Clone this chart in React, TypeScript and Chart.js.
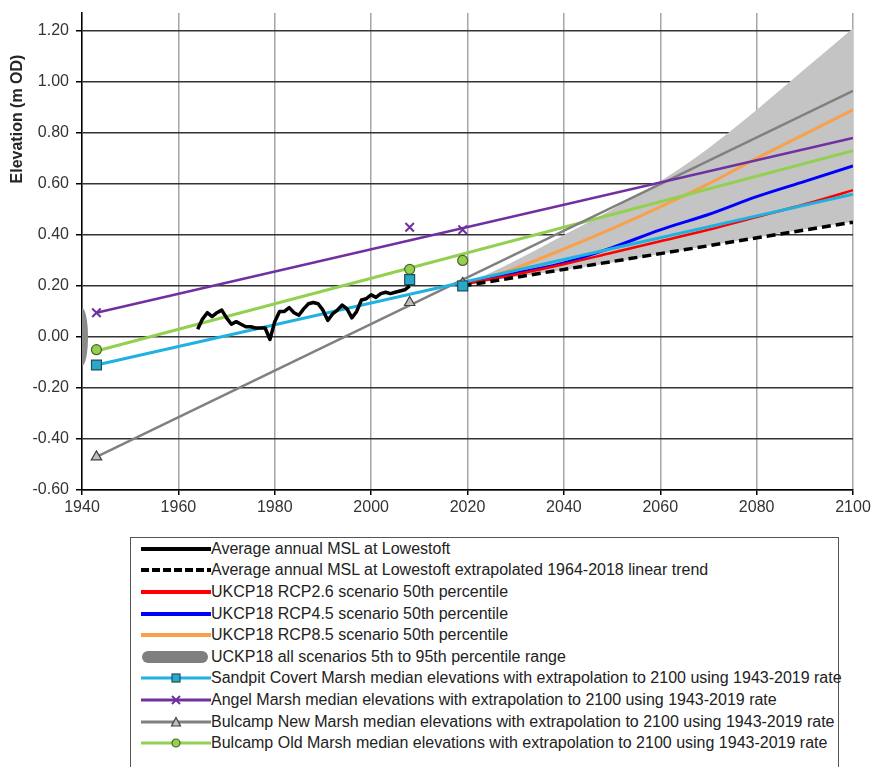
import React, { useEffect, useRef } from 'react';
import { Chart, registerables } from 'chart.js';

Chart.register(...registerables);

// ---------- data ----------
const xTickValues = [1940, 1960, 1980, 2000, 2020, 2040, 2060, 2080, 2100];
const yTickValues = [-0.6, -0.4, -0.2, 0, 0.2, 0.4, 0.6, 0.8, 1.0, 1.2];
const yAxisTitle = 'Elevation (m OD)';

// Average annual MSL at Lowestoft
const mslYears = [
  1964, 1965, 1966, 1967, 1968, 1969, 1970, 1971, 1972, 1973, 1974, 1975, 1976, 1977, 1978,
  1979, 1980, 1981, 1982, 1983, 1984, 1985, 1986, 1987, 1988, 1989, 1990, 1991, 1992, 1993,
  1994, 1995, 1996, 1997, 1998, 1999, 2000, 2001, 2002, 2003, 2004, 2005, 2006, 2007, 2008,
];
const mslValues = [
  0.03, 0.07, 0.095, 0.08, 0.095, 0.105, 0.075, 0.05, 0.06, 0.05, 0.04, 0.04, 0.035, 0.035, 0.035,
  -0.01, 0.06, 0.1, 0.1, 0.115, 0.095, 0.085, 0.11, 0.13, 0.135, 0.13, 0.105, 0.065, 0.09, 0.105,
  0.125, 0.11, 0.075, 0.1, 0.145, 0.15, 0.165, 0.155, 0.17, 0.175, 0.17, 0.175, 0.18, 0.185, 0.2,
];

// MSL extrapolated linear trend
const mslTrendYears = [2019, 2100];
const mslTrendValues = [0.2, 0.45];

// UKCP18 projections
const projYears = [2020, 2030, 2040, 2050, 2060, 2070, 2080, 2090, 2100];
const rcp26 = [0.21, 0.245, 0.285, 0.33, 0.375, 0.42, 0.47, 0.52, 0.575];
const rcp45 = [0.21, 0.25, 0.29, 0.35, 0.42, 0.48, 0.55, 0.61, 0.67];
const rcp85 = [0.21, 0.27, 0.345, 0.425, 0.51, 0.6, 0.7, 0.795, 0.89];
const rangeLow = [0.205, 0.235, 0.262, 0.292, 0.325, 0.358, 0.39, 0.422, 0.452];
const rangeHigh = [0.21, 0.3, 0.4, 0.5, 0.61, 0.74, 0.89, 1.05, 1.21];
const rangeMarkerYear = [1940];
const rangeMarkerValue = [0];

// Marsh median elevations
const marshYears = [1943, 2008, 2019];
const sandpitValues = [-0.11, 0.225, 0.2];
const angelValues = [0.095, 0.43, 0.42];
const bulcampNewValues = [-0.47, 0.135, 0.21];
const bulcampOldValues = [-0.05, 0.265, 0.3];

// Extrapolation using 1943-2019 rate
const trendYears = [1943, 2100];
const sandpitTrend = [-0.11, 0.56];
const angelTrend = [0.095, 0.78];
const bulcampNewTrend = [-0.47, 0.965];
const bulcampOldTrend = [-0.055, 0.73];

const legendLabels = [
  'Average annual MSL at Lowestoft',
  'Average annual MSL at Lowestoft extrapolated 1964-2018 linear trend',
  'UKCP18 RCP2.6 scenario 50th percentile',
  'UKCP18 RCP4.5 scenario 50th percentile',
  'UKCP18 RCP8.5 scenario 50th percentile',
  'UCKP18 all scenarios 5th to 95th percentile range',
  'Sandpit Covert Marsh median elevations with extrapolation to 2100 using 1943-2019 rate',
  'Angel Marsh median elevations with extrapolation to 2100 using 1943-2019 rate',
  'Bulcamp New Marsh median elevations with extrapolation to 2100 using 1943-2019 rate',
  'Bulcamp Old Marsh median elevations with extrapolation to 2100 using 1943-2019 rate',
];

// ---------- styles ----------
const C = {
  black: '#000000',
  red: '#ff0000',
  blue: '#0000ff',
  orange: '#f9a04a',
  band: '#c4c4c4',
  bandLegend: '#7f7f7f',
  cyan: '#1fb2e0',
  purple: '#7030a0',
  gray: '#808080',
  green: '#92d050',
};
const FONT = '"Liberation Sans", Arial, Helvetica, sans-serif';

const pts = (xs: number[], ys: number[]) => xs.map((x, i) => ({ x, y: ys[i] }));

const yTitlePlugin = {
  id: 'yTitle',
  afterDraw(chart: any) {
    const ctx = chart.ctx as CanvasRenderingContext2D;
    ctx.save();
    ctx.translate(18, 119);
    ctx.rotate(-Math.PI / 2);
    ctx.font = `bold 16px ${FONT}`;
    ctx.fillStyle = '#262626';
    ctx.textAlign = 'center';
    ctx.textBaseline = 'middle';
    ctx.fillText(yAxisTitle, 0, 0);
    ctx.restore();
  },
};

function Sample({ kind }: { kind: number }) {
  const w = 70;
  const h = 14;
  const cy = 7;
  const line = (color: string, width: number, dash?: string) => (
    <line x1={0} y1={cy} x2={w} y2={cy} stroke={color} strokeWidth={width} strokeDasharray={dash} />
  );
  let content: any = null;
  switch (kind) {
    case 0: content = line(C.black, 4); break;
    case 1: content = line(C.black, 4, '8 3'); break;
    case 2: content = line(C.red, 4); break;
    case 3: content = line(C.blue, 4); break;
    case 4: content = line(C.orange, 4); break;
    case 5: content = <rect x={1} y={1} width={66} height={12} rx={6} fill={C.bandLegend} />; break;
    case 6: content = (<>{line(C.cyan, 3)}<rect x={31} y={3} width={8} height={8} fill="#2aa8c8" stroke="#1d4f60" strokeWidth={1.2} /></>); break;
    case 7: content = (<>{line(C.purple, 3)}<path d="M31 3 L39 11 M39 3 L31 11" stroke={C.purple} strokeWidth={2} /></>); break;
    case 8: content = (<>{line(C.gray, 3)}<polygon points="35,2.5 39.5,11 30.5,11" fill="#bfbfbf" stroke="#404040" strokeWidth={1.2} /></>); break;
    case 9: content = (<>{line(C.green, 3)}<circle cx={35} cy={7} r={4} fill={C.green} stroke="#4f6228" strokeWidth={1.2} /></>); break;
  }
  return (
    <svg width={w} height={h} style={{ display: 'block', flex: '0 0 auto' }}>
      {content}
    </svg>
  );
}

export default function App() {
  const ref = useRef<HTMLCanvasElement>(null);

  useEffect(() => {
    const canvas = ref.current;
    if (!canvas) return;

    const ell = document.createElement('canvas');
    ell.width = 14;
    ell.height = 60;
    const ectx = ell.getContext('2d');
    if (ectx) {
      ectx.fillStyle = '#8a8a8a';
      ectx.beginPath();
      ectx.ellipse(7, 30, 6, 29, 0, 0, Math.PI * 2);
      ectx.fill();
    }

    const lineBase = { pointRadius: 0, fill: false, borderJoinStyle: 'round' as const };

    const chart = new Chart(canvas, {
      type: 'line',
      data: {
        datasets: [
          { label: legendLabels[0], data: pts(mslYears, mslValues), borderColor: C.black, borderWidth: 3.5, order: 0, ...lineBase },
          { label: 'Sandpit points', data: pts(marshYears, sandpitValues), showLine: false, pointStyle: 'rect', pointRadius: 7, pointBackgroundColor: '#2aa8c8', pointBorderColor: '#1d4f60', pointBorderWidth: 1.2, order: 1 },
          { label: 'Angel points', data: pts(marshYears, angelValues), showLine: false, pointStyle: 'crossRot', pointRadius: 6, pointBorderColor: C.purple, pointBorderWidth: 2, order: 1 },
          { label: 'Bulcamp New points', data: pts(marshYears, bulcampNewValues), showLine: false, pointStyle: 'triangle', pointRadius: 6, pointBackgroundColor: '#bfbfbf', pointBorderColor: '#404040', pointBorderWidth: 1.2, order: 1 },
          { label: 'Bulcamp Old points', data: pts(marshYears, bulcampOldValues), showLine: false, pointStyle: 'circle', pointRadius: 5, pointBackgroundColor: C.green, pointBorderColor: '#4f6228', pointBorderWidth: 1.2, order: 1 },
          { label: legendLabels[1], data: pts(mslTrendYears, mslTrendValues), borderColor: C.black, borderWidth: 3.5, borderDash: [9, 5], order: 2, ...lineBase },
          { label: legendLabels[6], data: pts(trendYears, sandpitTrend), borderColor: C.cyan, borderWidth: 3, order: 3, ...lineBase },
          { label: legendLabels[7], data: pts(trendYears, angelTrend), borderColor: C.purple, borderWidth: 2.5, order: 3, ...lineBase },
          { label: legendLabels[8], data: pts(trendYears, bulcampNewTrend), borderColor: C.gray, borderWidth: 2.5, order: 3, ...lineBase },
          { label: legendLabels[9], data: pts(trendYears, bulcampOldTrend), borderColor: C.green, borderWidth: 3, order: 3, ...lineBase },
          { label: legendLabels[2], data: pts(projYears, rcp26), borderColor: C.red, borderWidth: 2.5, cubicInterpolationMode: 'monotone', order: 4, ...lineBase },
          { label: legendLabels[3], data: pts(projYears, rcp45), borderColor: C.blue, borderWidth: 3, cubicInterpolationMode: 'monotone', order: 4, ...lineBase },
          { label: legendLabels[4], data: pts(projYears, rcp85), borderColor: C.orange, borderWidth: 3, cubicInterpolationMode: 'monotone', order: 4, ...lineBase },
          { label: 'range low', data: pts(projYears, rangeLow), borderWidth: 0, borderColor: 'rgba(0,0,0,0)', cubicInterpolationMode: 'monotone', order: 5, pointRadius: 0, fill: false },
          { label: legendLabels[5], data: pts(projYears, rangeHigh), borderWidth: 0, borderColor: 'rgba(0,0,0,0)', backgroundColor: C.band, cubicInterpolationMode: 'monotone', order: 5, pointRadius: 0, fill: '-1' },
          { label: 'range marker', data: pts(rangeMarkerYear, rangeMarkerValue), showLine: false, pointStyle: ell as any, pointRadius: 6, order: 6 },
        ] as any,
      },
      options: {
        animation: false,
        responsive: true,
        maintainAspectRatio: false,
        layout: { padding: { left: 0, right: 21, top: 13, bottom: 0 } },
        plugins: { legend: { display: false }, tooltip: { enabled: false } },
        scales: {
          x: {
            type: 'linear',
            min: 1940,
            max: 2100,
            afterBuildTicks: (s: any) => { s.ticks = xTickValues.map((v) => ({ value: v })); },
            afterFit: (s: any) => { s.height = 38; s.paddingLeft = 0; s.paddingRight = 0; },
            grid: { color: '#a6a6a6', lineWidth: 1.5, tickLength: 5, tickColor: '#000', tickWidth: 1.5 },
            border: { color: '#000', width: 1.5 },
            ticks: {
              autoSkip: false,
              maxRotation: 0,
              padding: 3,
              color: '#333',
              font: { family: FONT, size: 16 },
              callback: (v: any) => String(v),
            },
          },
          y: {
            type: 'linear',
            min: -0.6,
            max: 1.27,
            afterBuildTicks: (s: any) => { s.ticks = yTickValues.map((v) => ({ value: v })); },
            afterFit: (s: any) => { s.width = 82; s.paddingTop = 0; s.paddingBottom = 0; },
            grid: { color: '#333', lineWidth: 1.5, tickLength: 6, tickColor: '#000', tickWidth: 1.5 },
            border: { color: '#000', width: 1.5 },
            ticks: {
              padding: 7,
              color: '#333',
              font: { family: FONT, size: 16 },
              callback: (v: any) => Number(v).toFixed(2),
            },
          },
        },
      },
      plugins: [yTitlePlugin],
    } as any);

    return () => chart.destroy();
  }, []);

  return (
    <div style={{ position: 'fixed', left: 0, top: 0, width: 874, height: 767, overflow: 'hidden', background: '#fff' }}>
      <div style={{ position: 'absolute', left: 0, top: 0, width: 874, height: 528 }}>
        <canvas ref={ref} />
      </div>
      <div
        style={{
          position: 'absolute',
          left: 130,
          top: 537,
          width: 709,
          height: 260,
          border: '1px solid #555',
          boxSizing: 'border-box',
          background: '#fff',
          fontFamily: FONT,
          fontSize: 16,
          color: '#222',
        }}
      >
        {legendLabels.map((label, i) => (
          <div key={i} style={{ display: 'flex', alignItems: 'center', height: 21.6, whiteSpace: 'nowrap' }}>
            <div style={{ width: 10, flex: '0 0 auto' }} />
            <Sample kind={i} />
            <span style={{ marginLeft: 0 }}>{label}</span>
          </div>
        ))}
      </div>
    </div>
  );
}
